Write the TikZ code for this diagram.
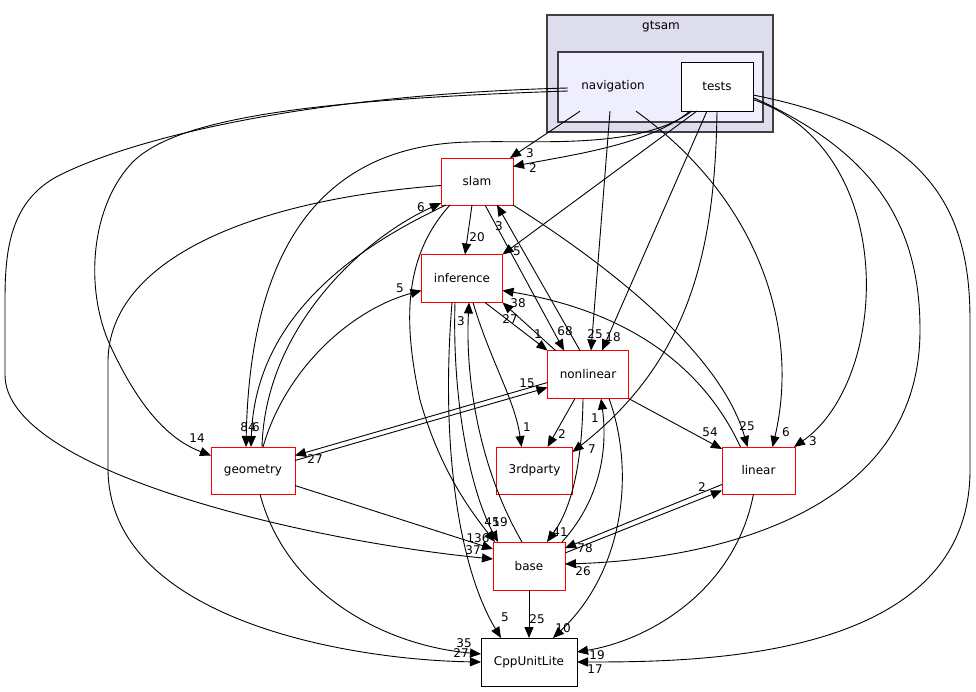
\documentclass[tikz,border=0pt]{standalone}
\usepackage{fontspec}
\setmainfont{DejaVu Sans}
\usetikzlibrary{arrows.meta,calc}
\definecolor{clusterbg}{HTML}{DDDDEE}
\definecolor{navbg}{HTML}{EEEEFF}
\definecolor{clusterline}{HTML}{404040}
\definecolor{dirred}{HTML}{FF0000}

\begin{document}
\begin{tikzpicture}[x=1pt,y=-1pt,
  font=\fontsize{12}{14}\selectfont,
  dirbox/.style={draw=dirred, fill=white, line width=0.9pt, minimum height=47pt, inner sep=0pt, outer sep=0pt},
  leafbox/.style={draw=black, fill=white, line width=0.9pt, minimum height=48pt, inner sep=0pt, outer sep=0pt},
  dep/.style={draw=black, line width=0.9pt, -{Triangle[length=11pt,width=9pt]}},
  num/.style={inner sep=0pt}]
\useasboundingbox (0,0) rectangle (976,692);
% clusters
\draw[fill=clusterbg, draw=clusterline, line width=1.2pt] (547,15) rectangle (773,132);
\node (gtsam) at (661,27) {gtsam};
\draw[fill=navbg, draw=clusterline, line width=1.2pt] (558,52) rectangle (763,122);
\node[minimum width=90pt, minimum height=50pt, inner sep=0pt] (nav) at (613,86) {navigation};
\node[leafbox, minimum width=72pt, minimum height=49pt] (tests) at (717,86.5) {tests};

% directories
\node[dirbox, minimum width=72pt] (slam) at (477,181.5) {slam};
\node[dirbox, minimum width=81pt, minimum height=48pt] (inference) at (462,278.5) {inference};
\node[dirbox, minimum width=81pt, minimum height=48pt] (nonlinear) at (588,374.5) {nonlinear};
\node[dirbox, minimum width=76pt] (thirdparty) at (534.5,470.5) {3rdparty};
\node[dirbox, minimum width=84pt] (geometry) at (253,470.5) {geometry};
\node[dirbox, minimum width=73pt] (linear) at (758.5,470.5) {linear};
\node[dirbox, minimum width=72pt, minimum height=48pt] (base) at (529,566) {base};
\node[leafbox, minimum width=96pt] (cpp) at (529,662) {CppUnitLite};

% navigation
\draw[dep] ($(nav.south)+(-33,0)$) -- ($(slam.north east)+(-3,0)$) node[num] at (530,153) {3};
\draw[dep] ($(nav.south)+(-3,0)$) -- ($(nonlinear.north)+(3,0)$) node[num] at (595,334) {25};
\draw[dep] ($(nav.south)+(23,0)$) .. controls (760,200) and (800,330) .. ($(linear.north)+(14,0)$) node[num] at (786,432) {6};
\draw[dep] ($(nav.west)+(0,5)$) .. controls (300,100) and (170,120) .. (130,165) .. controls (90,210) and (85,290) .. (110,345) .. controls (140,410) and (170,440) .. ($(geometry.west)+(0,-15)$) node[num] at (197,438) {14};
\draw[dep] ($(nav.west)+(0,2)$) .. controls (300,95) and (130,140) .. (60,175) .. controls (10,200) and (5,250) .. (5,300) -- (5,375) .. controls (5,470) and (300,540) .. ($(base.west)+(0,-7)$) node[num] at (473,550) {37};

% tests
\draw[dep] ($(tests.south)+(-27,0)$) .. controls (650,145) and (570,155) .. ($(slam.east)+(0,-15)$) node[num] at (533,168) {2};
\draw[dep] ($(tests.south)+(-25,0)$) .. controls (640,150) and (540,140) .. (470,142) .. controls (320,145) and (250,250) .. ($(geometry.north)+(-7,0)$) node[num] at (248,427) {84};
\draw[dep] ($(tests.south)+(-20,0)$) -- (inference.north east) node[num] at (517,251) {5};
\draw[dep] ($(tests.south)+(-10,0)$) -- ($(nonlinear.north)+(14,0)$) node[num] at (613,337) {18};
\draw[dep] (tests.south) .. controls (715,250) and (690,360) .. ($(thirdparty.north east)+(0,5)$) node[num] at (592,449) {7};
\draw[dep] ($(tests.east)+(0,13)$) .. controls (900,150) and (890,380) .. ($(linear.north east)+(-1,0)$) node[num] at (813,441) {3};
\draw[dep] ($(tests.east)+(0,11)$) .. controls (870,150) and (920,220) .. (920,330) .. controls (920,520) and (700,560) .. ($(base.east)+(0,-2)$) node[num] at (583,571) {26};
\draw[dep] ($(tests.east)+(0,8.5)$) .. controls (930,130) and (970,210) .. (970,320) -- (970,470) .. controls (970,660) and (700,662) .. (cpp.east) node[num] at (595,669) {17};

% slam
\draw[dep] ($(slam.south)+(-5,0)$) -- ($(inference.north)+(3,0)$) node[num] at (477,237) {20};
\draw[dep] ($(slam.south)+(8,0)$) -- ($(nonlinear.north)+(-24,0)$) node[num] at (565,331) {68};
\draw[dep] (slam.south east) .. controls (600,260) and (720,350) .. ($(linear.north)+(-11,0)$) node[num] at (747,426) {25};
\draw[dep] ($(slam.south west)+(5,0)$) .. controls (350,250) and (255,320) .. ($(geometry.north)+(-2,0)$) node[num] at (256,427) {6};
\draw[dep] ($(slam.south west)+(9,0)$) .. controls (400,260) and (405,330) .. (420,400) .. controls (440,470) and (470,510) .. ($(base.north west)+(2,0)$) node[num] at (492,522) {45};
\draw[dep] ($(slam.west)+(0,4)$) .. controls (250,200) and (110,260) .. (108,360) -- (108,470) .. controls (110,620) and (350,660) .. (cpp.west) node[num] at (461,653) {27};

% inference
\draw[dep] ($(inference.south)+(23,0)$) -- (nonlinear.north west) node[num] at (538,334) {1};
\draw[dep] ($(inference.south)+(11,0)$) .. controls (490,360) and (515,400) .. ($(thirdparty.north)+(-13,0)$) node[num] at (527,427) {1};
\draw[dep] ($(inference.south)+(-7,0)$) .. controls (452,400) and (470,490) .. ($(base.north west)+(5,0)$) node[num] at (500,522) {19};
\draw[dep] ($(inference.south)+(-10,0)$) .. controls (440,450) and (460,570) .. ($(cpp.north)+(-28,0)$) node[num] at (505,617) {5};

% nonlinear
\draw[dep] ($(nonlinear.north west)+(8,0)$) -- (inference.south east) node[num] at (510,319) {27};
\draw[dep] ($(nonlinear.north)+(-8,0)$) -- ($(slam.south)+(20,0)$) node[num] at (499,226) {3};
\draw[dep] ($(nonlinear.west)+(0,8)$) -- ($(geometry.east)+(0,-15)$) node[num] at (315,459) {27};
\draw[dep] ($(nonlinear.south)+(-13,0)$) -- ($(thirdparty.north east)+(-25,0)$) node[num] at (562,434) {2};
\draw[dep] ($(nonlinear.south)+(-5,0)$) .. controls (582,470) and (570,510) .. ($(base.north)+(18,0)$) node[num] at (560,532) {41};
\draw[dep] (nonlinear.south east) -- ($(linear.north west)+(0,2)$) node[num] at (710,432) {54};
\draw[dep] ($(nonlinear.south)+(21,0)$) .. controls (635,470) and (625,570) .. ($(cpp.north)+(24,0)$) node[num] at (563,628) {10};

% geometry
\draw[dep] ($(geometry.north)+(9,0)$) .. controls (265,330) and (360,240) .. ($(slam.south west)+(0,-2)$) node[num] at (421,207) {6};
\draw[dep] ($(geometry.north)+(10,0)$) .. controls (285,370) and (350,310) .. ($(inference.west)+(0,12)$) node[num] at (400,288) {5};
\draw[dep] ($(geometry.east)+(0,-10)$) -- ($(nonlinear.west)+(0,13)$) node[num] at (527,383) {15};
\draw[dep] ($(geometry.east)+(0,15)$) -- ($(base.west)+(0,-17)$) node[num] at (478,538) {136};
\draw[dep] ($(geometry.south)+(7,0)$) .. controls (285,590) and (380,645) .. ($(cpp.west)+(0,-8)$) node[num] at (464,643) {35};

% linear
\draw[dep] ($(linear.north)+(-18,0)$) .. controls (700,360) and (620,310) .. ($(inference.east)+(0,12)$) node[num] at (518,303) {38};
\draw[dep] ($(linear.west)+(0,14)$) -- ($(base.east)+(0,-18)$) node[num] at (585,548) {78};
\draw[dep] ($(linear.south)+(-5,0)$) .. controls (735,590) and (650,640) .. ($(cpp.east)+(0,-10)$) node[num] at (597,655) {19};

% base
\draw[dep] ($(base.north)+(-7,0)$) .. controls (480,470) and (465,380) .. ($(inference.south)+(7,0)$) node[num] at (461,321) {3};
\draw[dep] ($(base.north east)+(-3,0)$) .. controls (600,500) and (608,450) .. ($(nonlinear.south)+(13,0)$) node[num] at (595,418) {1};
\draw[dep] ($(base.east)+(0,-13)$) -- ($(linear.west)+(0,20)$) node[num] at (702,487) {2};
\draw[dep] (base.south) -- (cpp.north) node[num] at (537,619) {25};
\end{tikzpicture}
\end{document}
